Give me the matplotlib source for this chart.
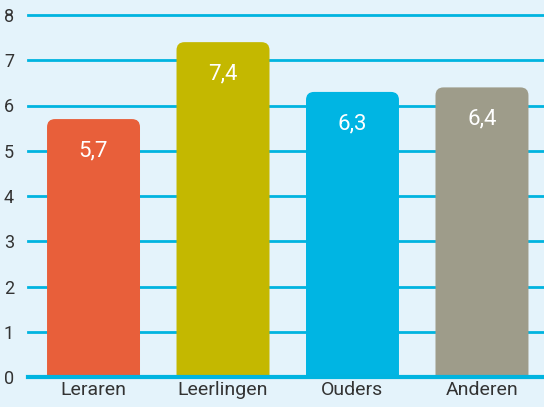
import matplotlib.pyplot as plt
from matplotlib.patches import FancyBboxPatch

categories = ["Leraren", "Leerlingen", "Ouders", "Anderen"]
values = [5.7, 7.4, 6.3, 6.4]
value_labels = ["5,7", "7,4", "6,3", "6,4"]
colors = ["#e85f3a", "#c4b800", "#00b5e3", "#9e9c8a"]

BG = "#e4f3fb"
GRID = "#00b4e0"

plt.rcParams['font.family'] = ['Roboto', 'DejaVu Sans']

fig = plt.figure(figsize=(5.44, 4.07), dpi=100, facecolor=BG)
ax = fig.add_axes([28 / 544, 30 / 407, 1 - 28 / 544, (377 - 15) / 407])
ax.set_facecolor(BG)

ax.set_xlim(-0.506, 3.479)
ax.set_ylim(0, 8)

# gridlines
for y in range(1, 9):
    ax.axhline(y, color=GRID, linewidth=2, zorder=1, clip_on=False)
ax.axhline(0, color=GRID, linewidth=3, zorder=5, clip_on=False)

# bars with rounded tops
width = 0.718
r = 0.062
for i, (v, c) in enumerate(zip(values, colors)):
    patch = FancyBboxPatch((i - width / 2, -0.6), width, v + 0.6,
                           boxstyle=f"round,pad=0,rounding_size={r}",
                           mutation_aspect=2.86, facecolor=c, edgecolor="none",
                           zorder=3)
    ax.add_patch(patch)
    ax.text(i, v - 0.7, value_labels[i], color="white", fontsize=16,
            ha="center", va="center", zorder=6)

ax.set_xticks(range(len(categories)))
ax.set_xticklabels(categories, fontsize=14, color="#333333")
ax.set_yticks(range(0, 9))
ax.set_yticklabels([str(i) for i in range(0, 9)], fontsize=13, color="#333333")
ax.tick_params(axis="both", length=0)
ax.tick_params(axis="y", pad=10)
ax.tick_params(axis="x", pad=3)

for s in ax.spines.values():
    s.set_visible(False)

fig.savefig("out.png", dpi=100, facecolor=BG)
